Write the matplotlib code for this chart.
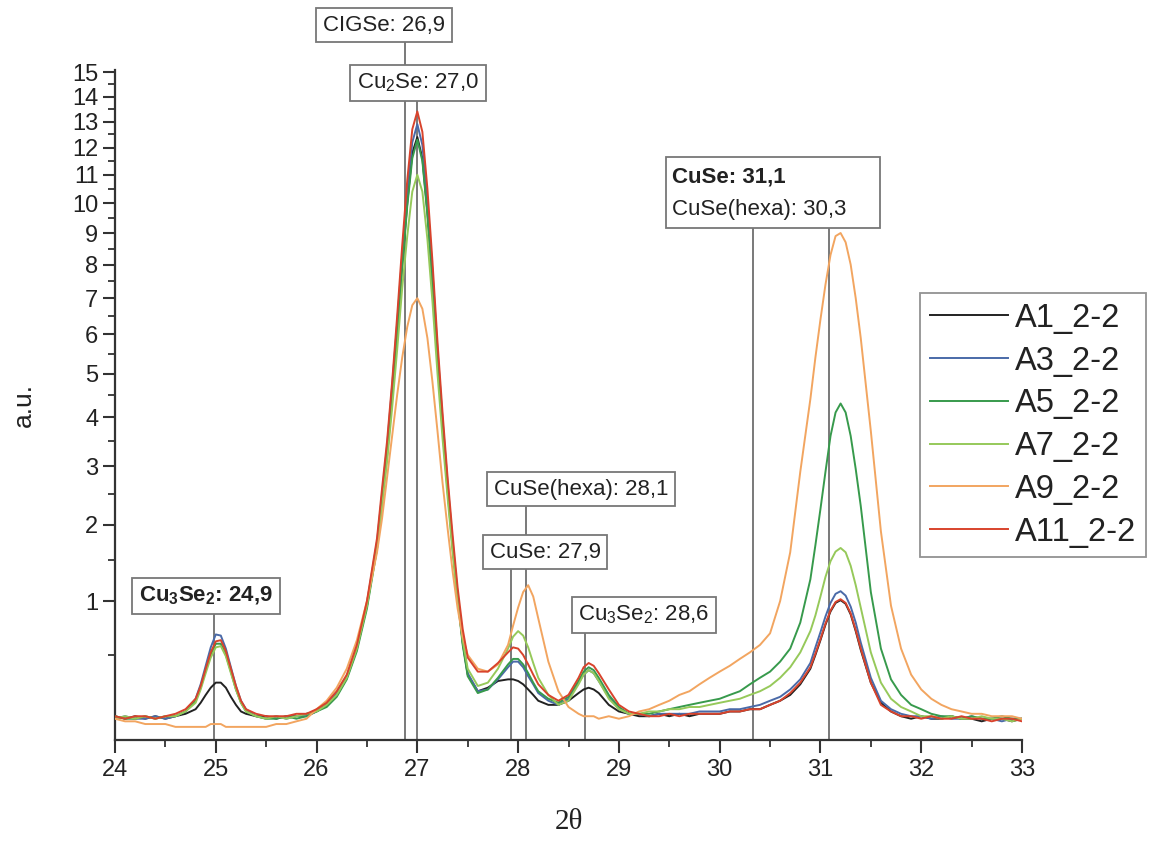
import numpy as np
import matplotlib
matplotlib.use("Agg")
import matplotlib.pyplot as plt
from matplotlib.patches import Rectangle

plt.rcParams['font.family'] = ['Liberation Sans', 'DejaVu Sans']
plt.rcParams['mathtext.fontset'] = 'custom'
plt.rcParams['mathtext.rm'] = 'Liberation Sans'
plt.rcParams['mathtext.it'] = 'Liberation Sans:italic'
plt.rcParams['mathtext.bf'] = 'Liberation Sans:bold'

# ---------------- data ----------------
two_theta = [
    24.0, 24.1, 24.2, 24.3, 24.4, 24.5, 24.6, 24.7, 24.8,
    24.85, 24.9, 24.95, 25.0, 25.05, 25.1, 25.15, 25.2, 25.25, 25.3,
    25.4, 25.5, 25.6, 25.7, 25.8, 25.9, 26.0, 26.1, 26.2, 26.3, 26.4, 26.5, 26.6,
    26.65, 26.7, 26.75, 26.8, 26.85, 26.9, 26.95, 27.0, 27.05, 27.1, 27.15, 27.2,
    27.25, 27.3, 27.35, 27.4, 27.45, 27.5,
    27.6, 27.7, 27.8, 27.9,
    27.95, 28.0, 28.05, 28.1, 28.15, 28.2,
    28.3, 28.4, 28.5, 28.6,
    28.65, 28.7, 28.75, 28.8,
    28.9, 29.0, 29.1, 29.2, 29.3, 29.4, 29.5, 29.6, 29.7, 29.8, 29.9, 30.0, 30.1,
    30.2, 30.3, 30.4, 30.5, 30.6, 30.7, 30.8, 30.9,
    30.95, 31.0, 31.05, 31.1, 31.15, 31.2, 31.25, 31.3, 31.35, 31.4,
    31.5, 31.6, 31.7, 31.8, 31.9, 32.0, 32.1, 32.2, 32.3, 32.4, 32.5, 32.6, 32.7,
    32.8, 32.9, 33.0,
]

A1 = [
    0.14, 0.13, 0.14, 0.13, 0.14, 0.13, 0.14, 0.15, 0.17,
    0.20, 0.24, 0.28, 0.31, 0.31, 0.28, 0.23, 0.19, 0.16, 0.15,
    0.14, 0.14, 0.13, 0.14, 0.14, 0.15, 0.16, 0.19, 0.24, 0.34, 0.55, 0.95, 1.70,
    2.4, 3.3, 4.5, 6.1, 8.0, 10.0, 11.8, 12.4, 11.6, 9.7, 7.5, 5.4, 3.8, 2.6, 1.7, 1.05, 0.60, 0.36,
    0.26, 0.28, 0.32, 0.33,
    0.33, 0.32, 0.30, 0.27, 0.24, 0.21,
    0.19, 0.19, 0.21, 0.25,
    0.27, 0.28, 0.27, 0.25,
    0.19, 0.16, 0.15, 0.14, 0.14, 0.15, 0.14, 0.15, 0.14, 0.15, 0.15, 0.15, 0.16,
    0.16, 0.17, 0.17, 0.19, 0.21, 0.24, 0.30, 0.40,
    0.50, 0.62, 0.76, 0.89, 0.98, 1.01, 0.97, 0.86, 0.70, 0.54,
    0.31, 0.20, 0.16, 0.14, 0.13, 0.14, 0.13, 0.13, 0.14, 0.13, 0.13, 0.12, 0.13,
    0.13, 0.12, 0.13,
]

A3 = [
    0.13, 0.14, 0.13, 0.13, 0.14, 0.13, 0.14, 0.16, 0.22,
    0.30, 0.42, 0.56, 0.67, 0.66, 0.55, 0.41, 0.29, 0.21, 0.17,
    0.14, 0.13, 0.14, 0.13, 0.14, 0.14, 0.16, 0.19, 0.25, 0.35, 0.57, 0.98, 1.75,
    2.5, 3.4, 4.7, 6.3, 8.3, 10.4, 12.2, 12.9, 12.1, 10.1, 7.8, 5.6, 3.95, 2.7, 1.75, 1.08, 0.62, 0.37,
    0.26, 0.27, 0.33, 0.41,
    0.45, 0.45, 0.41, 0.35, 0.30, 0.25,
    0.21, 0.19, 0.22, 0.31,
    0.36, 0.39, 0.37, 0.32,
    0.23, 0.17, 0.15, 0.15, 0.14, 0.15, 0.15, 0.15, 0.15, 0.16, 0.16, 0.16, 0.17,
    0.17, 0.18, 0.19, 0.21, 0.23, 0.27, 0.33, 0.44,
    0.56, 0.69, 0.84, 0.98, 1.08, 1.11, 1.06, 0.94, 0.78, 0.60,
    0.34, 0.21, 0.17, 0.15, 0.14, 0.14, 0.13, 0.14, 0.13, 0.13, 0.14, 0.13, 0.13,
    0.12, 0.13, 0.13,
]

A5 = [
    0.14, 0.13, 0.13, 0.14, 0.13, 0.14, 0.14, 0.16, 0.21,
    0.28, 0.39, 0.50, 0.59, 0.59, 0.50, 0.38, 0.27, 0.20, 0.16,
    0.14, 0.13, 0.13, 0.14, 0.13, 0.14, 0.16, 0.18, 0.23, 0.33, 0.53, 0.92, 1.65,
    2.35, 3.2, 4.4, 6.0, 7.9, 9.9, 11.6, 12.3, 11.5, 9.6, 7.4, 5.3, 3.75, 2.55, 1.65, 1.02, 0.58, 0.35,
    0.25, 0.27, 0.34, 0.43,
    0.47, 0.47, 0.43, 0.37, 0.31, 0.26,
    0.22, 0.20, 0.23, 0.32,
    0.38, 0.41, 0.39, 0.34,
    0.24, 0.18, 0.15, 0.15, 0.15, 0.16, 0.17, 0.18, 0.19, 0.20, 0.21, 0.22, 0.24,
    0.26, 0.30, 0.34, 0.38, 0.45, 0.55, 0.78, 1.25,
    1.7, 2.25, 2.9, 3.6, 4.1, 4.3, 4.1, 3.6, 2.95, 2.3,
    1.10, 0.55, 0.33, 0.24, 0.19, 0.17, 0.15, 0.14, 0.14, 0.13, 0.14, 0.13, 0.13,
    0.14, 0.13, 0.13,
]

A7 = [
    0.13, 0.14, 0.13, 0.14, 0.13, 0.14, 0.14, 0.16, 0.20,
    0.27, 0.37, 0.48, 0.56, 0.57, 0.49, 0.37, 0.27, 0.20, 0.16,
    0.14, 0.13, 0.14, 0.13, 0.14, 0.15, 0.16, 0.19, 0.24, 0.34, 0.55, 0.95, 1.65,
    2.3, 3.1, 4.2, 5.6, 7.3, 8.9, 10.4, 11.0, 10.4, 8.8, 6.9, 5.0, 3.55, 2.45, 1.6, 1.0, 0.62, 0.40,
    0.29, 0.31, 0.40, 0.55,
    0.65, 0.70, 0.66, 0.56, 0.44, 0.34,
    0.24, 0.19, 0.21, 0.30,
    0.36, 0.39, 0.37, 0.32,
    0.22, 0.17, 0.15, 0.15, 0.16, 0.16, 0.17, 0.17, 0.18, 0.18, 0.19, 0.20, 0.21,
    0.22, 0.24, 0.26, 0.29, 0.34, 0.41, 0.52, 0.70,
    0.85, 1.05, 1.28, 1.48, 1.61, 1.66, 1.60, 1.42, 1.18, 0.93,
    0.52, 0.31, 0.22, 0.18, 0.16, 0.14, 0.14, 0.13, 0.14, 0.13, 0.13, 0.14, 0.13,
    0.13, 0.12, 0.13,
]

A9 = [
    0.13, 0.12, 0.12, 0.11, 0.11, 0.11, 0.10, 0.10, 0.10,
    0.10, 0.10, 0.11, 0.11, 0.11, 0.10, 0.10, 0.10, 0.10, 0.10,
    0.10, 0.10, 0.11, 0.11, 0.12, 0.13, 0.17, 0.21, 0.28, 0.40, 0.62, 1.00, 1.60,
    2.1, 2.8, 3.6, 4.5, 5.4, 6.2, 6.8, 7.0, 6.7, 5.9, 4.8, 3.7, 2.7, 1.95, 1.35, 0.92, 0.65, 0.50,
    0.40, 0.38, 0.43, 0.58,
    0.75, 0.93, 1.10, 1.18, 1.05, 0.82,
    0.45, 0.26, 0.18, 0.15,
    0.14, 0.14, 0.14, 0.13,
    0.14, 0.13, 0.14, 0.16, 0.17, 0.19, 0.21, 0.24, 0.26, 0.30, 0.34, 0.38, 0.42,
    0.47, 0.52, 0.58, 0.68, 1.00, 1.60, 2.90, 4.40,
    5.4, 6.4, 7.4, 8.3, 8.9, 9.0, 8.7, 8.0, 7.0, 5.9,
    3.7, 1.9, 0.95, 0.55, 0.36, 0.27, 0.22, 0.19, 0.17, 0.16, 0.15, 0.15, 0.14,
    0.14, 0.14, 0.13,
]

A11 = [
    0.14, 0.13, 0.14, 0.14, 0.13, 0.14, 0.15, 0.17, 0.22,
    0.29, 0.40, 0.52, 0.61, 0.62, 0.53, 0.40, 0.29, 0.21, 0.17,
    0.15, 0.14, 0.14, 0.14, 0.15, 0.15, 0.17, 0.20, 0.26, 0.36, 0.58, 1.00, 1.80,
    2.6, 3.5, 4.8, 6.5, 8.6, 10.8, 12.7, 13.4, 12.6, 10.5, 8.1, 5.8, 4.1, 2.8, 1.85, 1.15, 0.72, 0.48,
    0.38, 0.38, 0.44, 0.52,
    0.56, 0.55, 0.50, 0.43, 0.36, 0.30,
    0.24, 0.21, 0.24, 0.34,
    0.41, 0.44, 0.42, 0.37,
    0.27, 0.19, 0.16, 0.15, 0.14, 0.14, 0.15, 0.14, 0.15, 0.15, 0.15, 0.15, 0.16,
    0.16, 0.17, 0.17, 0.19, 0.21, 0.25, 0.31, 0.41,
    0.51, 0.63, 0.77, 0.90, 0.99, 1.02, 0.98, 0.87, 0.71, 0.55,
    0.31, 0.19, 0.16, 0.14, 0.14, 0.13, 0.14, 0.13, 0.13, 0.14, 0.13, 0.13, 0.12,
    0.13, 0.13, 0.12,
]

series_names = ["A1_2-2", "A3_2-2", "A5_2-2", "A7_2-2", "A9_2-2", "A11_2-2"]
series_values = [A1, A3, A5, A7, A9, A11]
series_colors = ["#222222", "#4a6aa8", "#379a4c", "#96c95a", "#f2a560", "#d8432c"]

x_ticks = [24, 25, 26, 27, 28, 29, 30, 31, 32, 33]
y_ticks = [1, 2, 3, 4, 5, 6, 7, 8, 9, 10, 11, 12, 13, 14, 15]

# reference lines: positions (2theta) and the pixel-y of the box they hang from
ref_positions = [26.88, 27.0, 24.98, 28.08, 27.93, 28.66, 31.08, 30.33]
ref_tops_px = [40, 100, 613, 505, 570, 633, 227, 227]

# ---------------- figure ----------------
W, H = 1152, 846
fig = plt.figure(figsize=(W / 100, H / 100), dpi=100)
ax_l, ax_r, ax_t, ax_b = 115, 1022, 70, 740
ax = fig.add_axes([ax_l / W, (H - ax_b) / H, (ax_r - ax_l) / W, (ax_b - ax_t) / H])

def fwd(v):
    return np.sqrt(np.clip(v, 0, None))

def inv(s):
    return np.square(s)

ax.set_yscale('function', functions=(fwd, inv))

for name, vals, col in zip(series_names, series_values, series_colors):
    ax.plot(two_theta, vals, color=col, lw=1.4, label=name, zorder=3)

ax.set_xlim(24, 33)
ax.set_ylim(0.06, 15.1)
ax.set_xticks(x_ticks)
ax.set_xticks(np.arange(24.5, 33, 1.0), minor=True)
ax.set_yticks(y_ticks)
ax.set_yticklabels([str(t) for t in y_ticks])
ax.set_yticks(np.arange(0.5, 15, 1.0), minor=True)
ax.yaxis.set_minor_formatter(plt.NullFormatter())

for s in ['top', 'right']:
    ax.spines[s].set_visible(False)
for s in ['left', 'bottom']:
    ax.spines[s].set_linewidth(1.6)
    ax.spines[s].set_color('#333333')

ax.tick_params(axis='both', which='major', direction='out', length=9, width=1.5,
               color='#333333', labelsize=17, labelcolor='#222222', pad=5)
ax.tick_params(axis='both', which='minor', direction='out', length=5, width=1.3,
               color='#333333')
ax.tick_params(axis='y', which='major', pad=3)

ax.set_xlabel('2θ', fontsize=21, family=['Liberation Serif', 'DejaVu Serif'],
              labelpad=20, color='#222222')
ax.set_ylabel('a.u.', fontsize=19, labelpad=26, color='#222222')

# vertical reference lines
trans = ax.get_xaxis_transform()
for xpos, top_px in zip(ref_positions, ref_tops_px):
    frac = (ax_b - top_px) / (ax_b - ax_t)
    ax.plot([xpos, xpos], [0, frac], transform=trans, color='#555555', lw=1.1,
            clip_on=False, zorder=2)

def label_box(cx, cy, text, bold=False, size=16):
    fig.text(cx / W, 1 - cy / H, text, ha='center', va='center', fontsize=size,
             fontweight='bold' if bold else 'normal', color='#222222',
             bbox=dict(boxstyle='square,pad=0.3', fc='white', ec='#777777', lw=1.3),
             zorder=10)

label_box(384, 25, 'CIGSe: 26,9')
label_box(418, 83, 'Cu$_2$Se: 27,0')
label_box(206, 596, r'Cu$_\mathbf{3}$Se$_\mathbf{2}$: 24,9', bold=True)
label_box(581, 489, 'CuSe(hexa): 28,1')
label_box(545, 552, 'CuSe: 27,9')
label_box(644, 615, 'Cu$_3$Se$_2$: 28,6')

# two-line box
bx0, by0, bx1, by1 = 666, 157, 880, 228
rect = Rectangle((bx0 / W, 1 - by1 / H), (bx1 - bx0) / W, (by1 - by0) / H,
                 transform=fig.transFigure, fc='white', ec='#777777', lw=1.3, zorder=9)
fig.patches.append(rect)
fig.text(672 / W, 1 - 177 / H, 'CuSe: 31,1', ha='left', va='center', fontsize=16,
         fontweight='bold', color='#222222', zorder=11)
fig.text(672 / W, 1 - 210 / H, 'CuSe(hexa): 30,3', ha='left', va='center', fontsize=16,
         color='#222222', zorder=11)

leg = fig.legend(loc='upper left', bbox_to_anchor=(920 / W, 1 - 293 / H),
                 bbox_transform=fig.transFigure, frameon=True, fancybox=False,
                 fontsize=23.5, handlelength=2.4, handletextpad=0.2, labelspacing=0.36,
                 borderpad=0.3, borderaxespad=0)
leg.get_frame().set_edgecolor('#777777')
leg.get_frame().set_linewidth(1.3)
for t in leg.get_texts():
    t.set_color('#222222')

fig.savefig('out.png', dpi=100)
